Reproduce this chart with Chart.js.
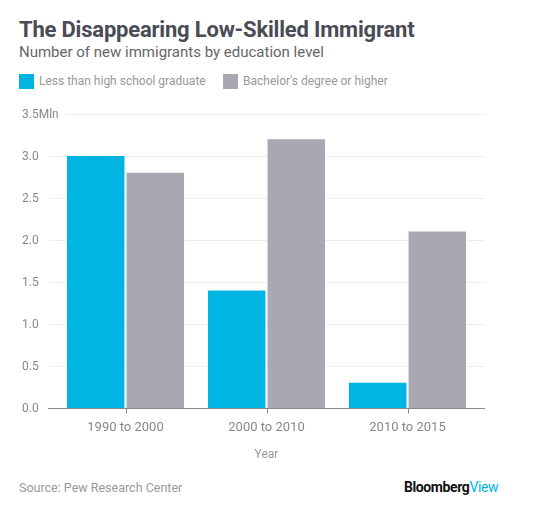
<!DOCTYPE html>
<html>
<head>
<meta charset="utf-8">
<script src="https://cdn.jsdelivr.net/npm/chart.js@4.4.0/dist/chart.umd.min.js"></script>
<style>
  body { margin: 0; background: #fff; width: 560px; height: 516px; position: relative; overflow: hidden; font-family: Roboto, sans-serif; }
  .titulo { position: absolute; left: 19px; top: 17px; font-size: 22px; font-weight: bold; color: #4b4b55; letter-spacing: -0.2px; }
  .subtitulo { position: absolute; left: 19px; top: 43px; font-size: 15px; color: #666; }
  .leyenda { position: absolute; top: 74px; font-size: 12px; color: #999; line-height: 15px; }
  .leyenda span.cuadro { display: inline-block; width: 15px; height: 15px; vertical-align: top; margin-right: 5px; }
  .fuente { position: absolute; left: 19px; top: 480px; font-size: 12.5px; color: #999; }
  .marca { position: absolute; left: 404px; top: 479px; font-size: 14px; letter-spacing: -0.4px; }
  .marca b { color: #111; }
  .marca span { color: #00b5e2; }
  #grafico { position: absolute; left: 0; top: 100px; }
</style>
</head>
<body>
<div class="titulo">The Disappearing Low-Skilled Immigrant</div>
<div class="subtitulo">Number of new immigrants by education level</div>
<div class="leyenda" style="left:19px"><span class="cuadro" style="background:#00b5e2"></span>Less than high school graduate</div>
<div class="leyenda" style="left:223px"><span class="cuadro" style="background:#a8a7b3"></span>Bachelor's degree or higher</div>
<canvas id="grafico" width="560" height="370"></canvas>
<div class="fuente">Source: Pew Research Center</div>
<div class="marca"><b>Bloomberg</b><span>View</span></div>
<script>
//Datos
const periodos = ['1990 to 2000', '2000 to 2010', '2010 to 2015'];
const menosSecundaria = [3.0, 1.4, 0.3];
const licenciatura = [2.8, 3.2, 2.1];
const etiquetasY = ['0.0', '0.5', '1.0', '1.5', '2.0', '2.5', '3.0', '3.5Mln'];

const colorAzul = '#00b5e2';
const colorGris = '#a8a7b3';

//Plugin para rejilla, etiquetas del eje Y y linea base
const rejilla = {
    id: 'rejilla',
    beforeDatasetsDraw(chart) {
        const ctx = chart.ctx;
        const y = chart.scales.y;
        const area = chart.chartArea;
        ctx.save();
        ctx.font = '12px Roboto';
        ctx.textAlign = 'left';
        ctx.textBaseline = 'middle';
        y.ticks.forEach((t, i) => {
            const py = Math.round(y.getPixelForValue(t.value)) + 0.5;
            const texto = etiquetasY[i] || '';
            const ancho = ctx.measureText(texto).width;
            ctx.fillStyle = '#888';
            ctx.fillText(texto, y.left, py);
            if (t.value === 0) return;
            const inicio = Math.max(area.left - 6, y.left + ancho + 6);
            ctx.beginPath();
            ctx.strokeStyle = '#ededed';
            ctx.lineWidth = 1;
            ctx.moveTo(inicio, py);
            ctx.lineTo(area.right + 7, py);
            ctx.stroke();
        });
        ctx.restore();
    },
    afterDatasetsDraw(chart) {
        const ctx = chart.ctx;
        const y = chart.scales.y;
        const x = chart.scales.x;
        const area = chart.chartArea;
        const py = Math.round(y.getPixelForValue(0)) + 0.5;
        ctx.save();
        ctx.strokeStyle = '#888';
        ctx.lineWidth = 1;
        ctx.beginPath();
        ctx.moveTo(area.left - 7, py);
        ctx.lineTo(area.right + 7, py);
        periodos.forEach((p, i) => {
            const px = Math.round(x.getPixelForValue(i)) + 0.5;
            ctx.moveTo(px, py);
            ctx.lineTo(px, py + 5);
        });
        ctx.stroke();
        ctx.restore();
    }
};

const config = {
    type: 'bar',
    data: {
        labels: periodos,
        datasets: [
            { label: 'Less than high school graduate', data: menosSecundaria, backgroundColor: colorAzul },
            { label: "Bachelor's degree or higher", data: licenciatura, backgroundColor: colorGris }
        ]
    },
    options: {
        responsive: false,
        animation: false,
        categoryPercentage: 0.845,
        barPercentage: 0.965,
        layout: { padding: { left: 22, right: 82, top: 14, bottom: 0 } },
        plugins: {
            legend: { display: false },
            tooltip: { enabled: false }
        },
        scales: {
            x: {
                grid: { display: false, drawTicks: false },
                border: { display: false },
                ticks: { color: '#888', font: { family: 'Roboto', size: 13 }, padding: 12 },
                title: { display: true, text: 'Year', color: '#999', font: { family: 'Roboto', size: 12 }, padding: { top: 0, bottom: 8 } }
            },
            y: {
                min: 0,
                max: 3.5,
                grid: { display: false, drawTicks: false },
                border: { display: false },
                afterFit: (scale) => { scale.width = 33; },
                ticks: {
                    stepSize: 0.5,
                    display: false
                }
            }
        }
    },
    plugins: [rejilla]
};

new Chart(document.querySelector('#grafico'), config);
</script>
</body>
</html>
